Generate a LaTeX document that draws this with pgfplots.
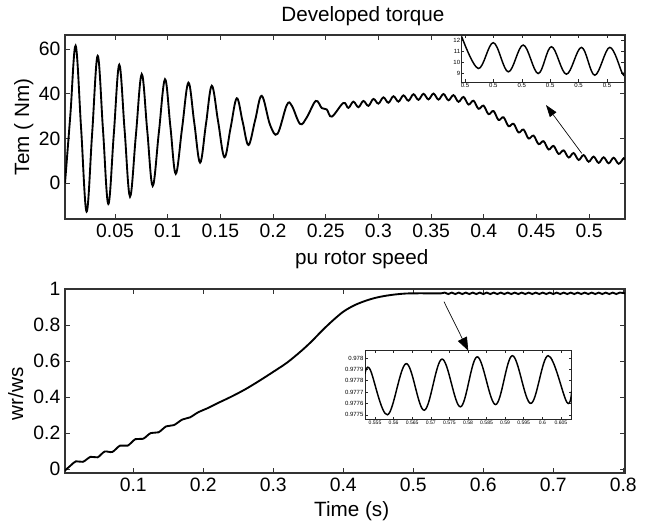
\documentclass[border=0pt]{standalone}
\usepackage{fontspec}
\setmainfont{Liberation Sans}
\usepackage{pgfplots}
\pgfplotsset{compat=1.18}
\usetikzlibrary{arrows.meta}

\newcommand\tickfont{\fontsize{14.5}{16}\selectfont}
\newcommand\labfont{\fontsize{15.5}{18}\selectfont}

\pgfplotsset{
  every axis title shift=0pt,
  maincurve/.style={line width=1.4pt, black, smooth, tension=0.6, no markers},
  insetcurve/.style={line width=1.1pt, black, smooth, tension=0.6, no markers},
  mainax/.style={scale only axis, width=420pt, height=138pt, anchor=south west,
    axis line style={line width=0.8pt, black!80},
    tick style={line width=0.6pt, black!80},
    tick align=inside, major tick length=4pt,
    ticklabel style={font=\tickfont},
    /pgf/number format/assume math mode=true,
    label style={font=\labfont}},
  insetax/.style={scale only axis, anchor=south west,
    axis background/.style={fill=white},
    axis line style={line width=0.6pt, black!85},
    tick style={line width=0.4pt, black!85},
    tick align=inside, major tick length=2pt,
    /pgf/number format/assume math mode=true,
    ticklabel style={font=\fontsize{4.5}{5}\selectfont, inner sep=1pt}}
}

\begin{document}
\begin{tikzpicture}
\path[use as bounding box] (0,0) rectangle (488.25pt,394.5pt);

% ---------------- top: developed torque
\begin{axis}[mainax, at={(48.75pt,230.25pt)},
  xmin=0.0026, xmax=0.534, ymin=-16, ymax=66.3,
  xtick={0.05,0.1,0.15,0.2,0.25,0.3,0.35,0.4,0.45,0.5},
  xticklabels={0.05,0.1,0.15,0.2,0.25,0.3,0.35,0.4,0.45,0.5},
  ytick={0,20,40,60},
  title={Developed torque},
  title style={at={(axis description cs:0.532,1.105)}, anchor=center, font=\labfont},
  xlabel={pu rotor speed},
  xlabel style={at={(axis description cs:0.53,-0.217)}, anchor=center},
  ylabel={Tem ( Nm)},
  ylabel style={at={(axis description cs:-0.0735,0.5)}, anchor=center},
]
\addplot[maincurve] coordinates {
(0.0026,0) (0.0077,30.7) (0.0127,61.5) (0.0179,24.4) (0.0231,-12.7) (0.02835,22.2)
(0.0336,57.0) (0.03865,23.9) (0.0437,-9.3) (0.0489,21.9) (0.0541,53.0) (0.0592,23.5)
(0.0643,-6.0) (0.06985,21.4) (0.0754,48.8) (0.0806,23.8) (0.0858,-1.2) (0.09165,22.65)
(0.0975,46.5) (0.1026,25.35) (0.1077,4.2) (0.1137,24.6) (0.1197,45.0) (0.12525,27.1)
(0.1308,9.2) (0.13635,26.4) (0.1419,43.6) (0.1479,27.6) (0.1539,11.6) (0.15975,24.8)
(0.1656,38.0) (0.17115,27.55) (0.1767,17.1) (0.183,28.1) (0.1893,39.1) (0.1972,26.1)
(0.2042,22.1) (0.2131,35.0) (0.2178,34.7) (0.2257,26.5) (0.2321,29.5) (0.2406,36.8)
(0.2463,33.6) (0.2510,33.0) (0.2558,29.8)
(0.26675,35.9) (0.2715,33.7) (0.27625,36.5) (0.2810,34.0) (0.28575,36.8) (0.2905,34.6)
(0.29525,37.7) (0.3000,35.6) (0.30475,38.4) (0.3095,36.0) (0.31425,38.9) (0.3190,36.5)
(0.32375,39.3) (0.3285,36.9) (0.33325,39.8) (0.3380,37.3) (0.34275,40.0) (0.3475,37.5)
(0.35225,40.1) (0.3570,37.4) (0.36175,39.9) (0.3665,37.1) (0.37125,39.4) (0.3760,36.4)
(0.38075,38.6) (0.3855,35.2) (0.39025,36.9) (0.3950,33.3) (0.39975,34.7) (0.4045,30.9)
(0.40925,32.3) (0.4140,28.3) (0.41875,29.5) (0.4235,25.5) (0.42825,26.6) (0.4330,22.7)
(0.43775,24.0) (0.4425,20.0) (0.44725,21.3) (0.4520,17.5) (0.45675,18.8) (0.4615,15.1)
(0.46625,16.7) (0.4710,13.1) (0.47575,14.7) (0.4805,11.5) (0.48525,13.5) (0.4900,10.4)
(0.49475,12.6) (0.4995,9.6) (0.50425,11.9) (0.5090,9.1) (0.51375,11.6) (0.5185,8.9)
(0.52325,11.4) (0.5280,8.7) (0.53275,11.2) (0.534,10.6)
};
\end{axis}

% ---------------- bottom: rotor speed
\begin{axis}[mainax, at={(48.75pt,39.75pt)},
  xmin=0.0024, xmax=0.8025, ymin=-0.022, ymax=1,
  xtick={0.1,0.2,0.3,0.4,0.5,0.6,0.7,0.8},
  xticklabels={0.1,0.2,0.3,0.4,0.5,0.6,0.7,0.8},
  ytick={0,0.2,0.4,0.6,0.8,1},
  yticklabels={0,0.2,0.4,0.6,0.8,1},
  xlabel={Time (s)},
  xlabel style={at={(axis description cs:0.512,-0.21)}, anchor=center},
  ylabel={wr/ws},
  ylabel style={at={(axis description cs:-0.088,0.43)}, anchor=center},
]
\addplot[maincurve, tension=0.5] coordinates {
(0.0024,-0.008) (0.010,0.018) (0.018,0.043) (0.028,0.040) (0.039,0.068) (0.049,0.065)
(0.059,0.097) (0.070,0.095) (0.081,0.130) (0.092,0.130) (0.103,0.166) (0.114,0.168)
(0.125,0.200) (0.136,0.204) (0.147,0.237) (0.158,0.244) (0.170,0.275) (0.181,0.287)
(0.193,0.316) (0.205,0.336) (0.22,0.365) (0.24,0.402) (0.26,0.443) (0.28,0.490)
(0.30,0.540) (0.32,0.592) (0.34,0.656) (0.355,0.710) (0.370,0.770) (0.385,0.825)
(0.400,0.874) (0.415,0.908) (0.430,0.932) (0.445,0.950) (0.460,0.962) (0.475,0.970)
(0.490,0.975) (0.505,0.976) (0.520,0.976) (0.540,0.976)
(0.545,0.980) (0.550,0.972) (0.555,0.980) (0.560,0.972) (0.565,0.980) (0.570,0.972)
(0.575,0.980) (0.580,0.972) (0.585,0.980) (0.590,0.972) (0.595,0.980) (0.600,0.972)
(0.605,0.980) (0.610,0.972) (0.615,0.980) (0.620,0.972) (0.625,0.980) (0.630,0.972)
(0.635,0.980) (0.640,0.972) (0.645,0.980) (0.650,0.972) (0.655,0.980) (0.660,0.972)
(0.665,0.980) (0.670,0.972) (0.675,0.980) (0.680,0.972) (0.685,0.980) (0.690,0.972)
(0.695,0.980) (0.700,0.972) (0.705,0.980) (0.710,0.972) (0.715,0.980) (0.720,0.972)
(0.725,0.980) (0.730,0.972) (0.735,0.980) (0.740,0.972) (0.745,0.980) (0.750,0.972)
(0.755,0.980) (0.760,0.972) (0.765,0.980) (0.770,0.972) (0.775,0.980) (0.780,0.972)
(0.785,0.980) (0.790,0.972) (0.795,0.980) (0.8025,0.976)
};
\end{axis}

% ---------------- top inset
\begin{axis}[insetax, at={(346.3pt,333pt)}, width=121.7pt, height=35.25pt,
  xmin=0, xmax=1, ymin=8.24, ymax=12.45,
  ytick={9,10,11,12},
  xtick={0.02,0.195,0.37,0.545,0.72,0.895},
  xticklabels={0.5,0.5,0.5,0.5,0.5,0.5},
]
\addplot[insetcurve] coordinates {
(0,12.3) (0.102,9.45) (0.195,11.76) (0.287,9.15) (0.379,11.55) (0.471,9.0)
(0.553,11.4) (0.645,8.94) (0.738,11.34) (0.820,8.85) (0.912,11.34) (0.990,9.0) (1.0,9.1)
};
\end{axis}

% ---------------- bottom inset
\begin{axis}[insetax, at={(273.75pt,80pt)}, width=155pt, height=52pt,
  xmin=0.5523, xmax=0.6079, ymin=0.97746, ymax=0.97807,
  ytick={0.9775,0.9776,0.9777,0.9778,0.9779,0.978},
  yticklabels={0.9775,0.9776,0.9777,0.9778,0.9779,0.978},
  xtick={0.555,0.56,0.565,0.57,0.575,0.58,0.585,0.59,0.595,0.6,0.605},
  xticklabels={0.555,0.56,0.565,0.57,0.575,0.58,0.585,0.59,0.595,0.6,0.605},
  xticklabel style={font=\fontsize{3.8}{4}\selectfont},
]
\addplot[insetcurve] coordinates {
(0.5523,0.97786) (0.55365,0.97790) (0.55833,0.97750) (0.56338,0.97795) (0.56824,0.97754)
(0.57302,0.97799) (0.57797,0.97757) (0.58248,0.97801) (0.58743,0.97759) (0.59195,0.97802)
(0.59689,0.97760) (0.60157,0.97802) (0.60662,0.97761) (0.6079,0.97771)
};
\end{axis}

% arrows
\draw[line width=0.5pt, -{Triangle[length=9pt,width=6pt]}] (436.3pt,279.5pt) -- (409.5pt,315.75pt);
\draw[line width=0.5pt, -{Triangle[length=10pt,width=7.5pt]}] (333pt,168.2pt) -- (351.2pt,131.5pt);
\end{tikzpicture}
\end{document}
